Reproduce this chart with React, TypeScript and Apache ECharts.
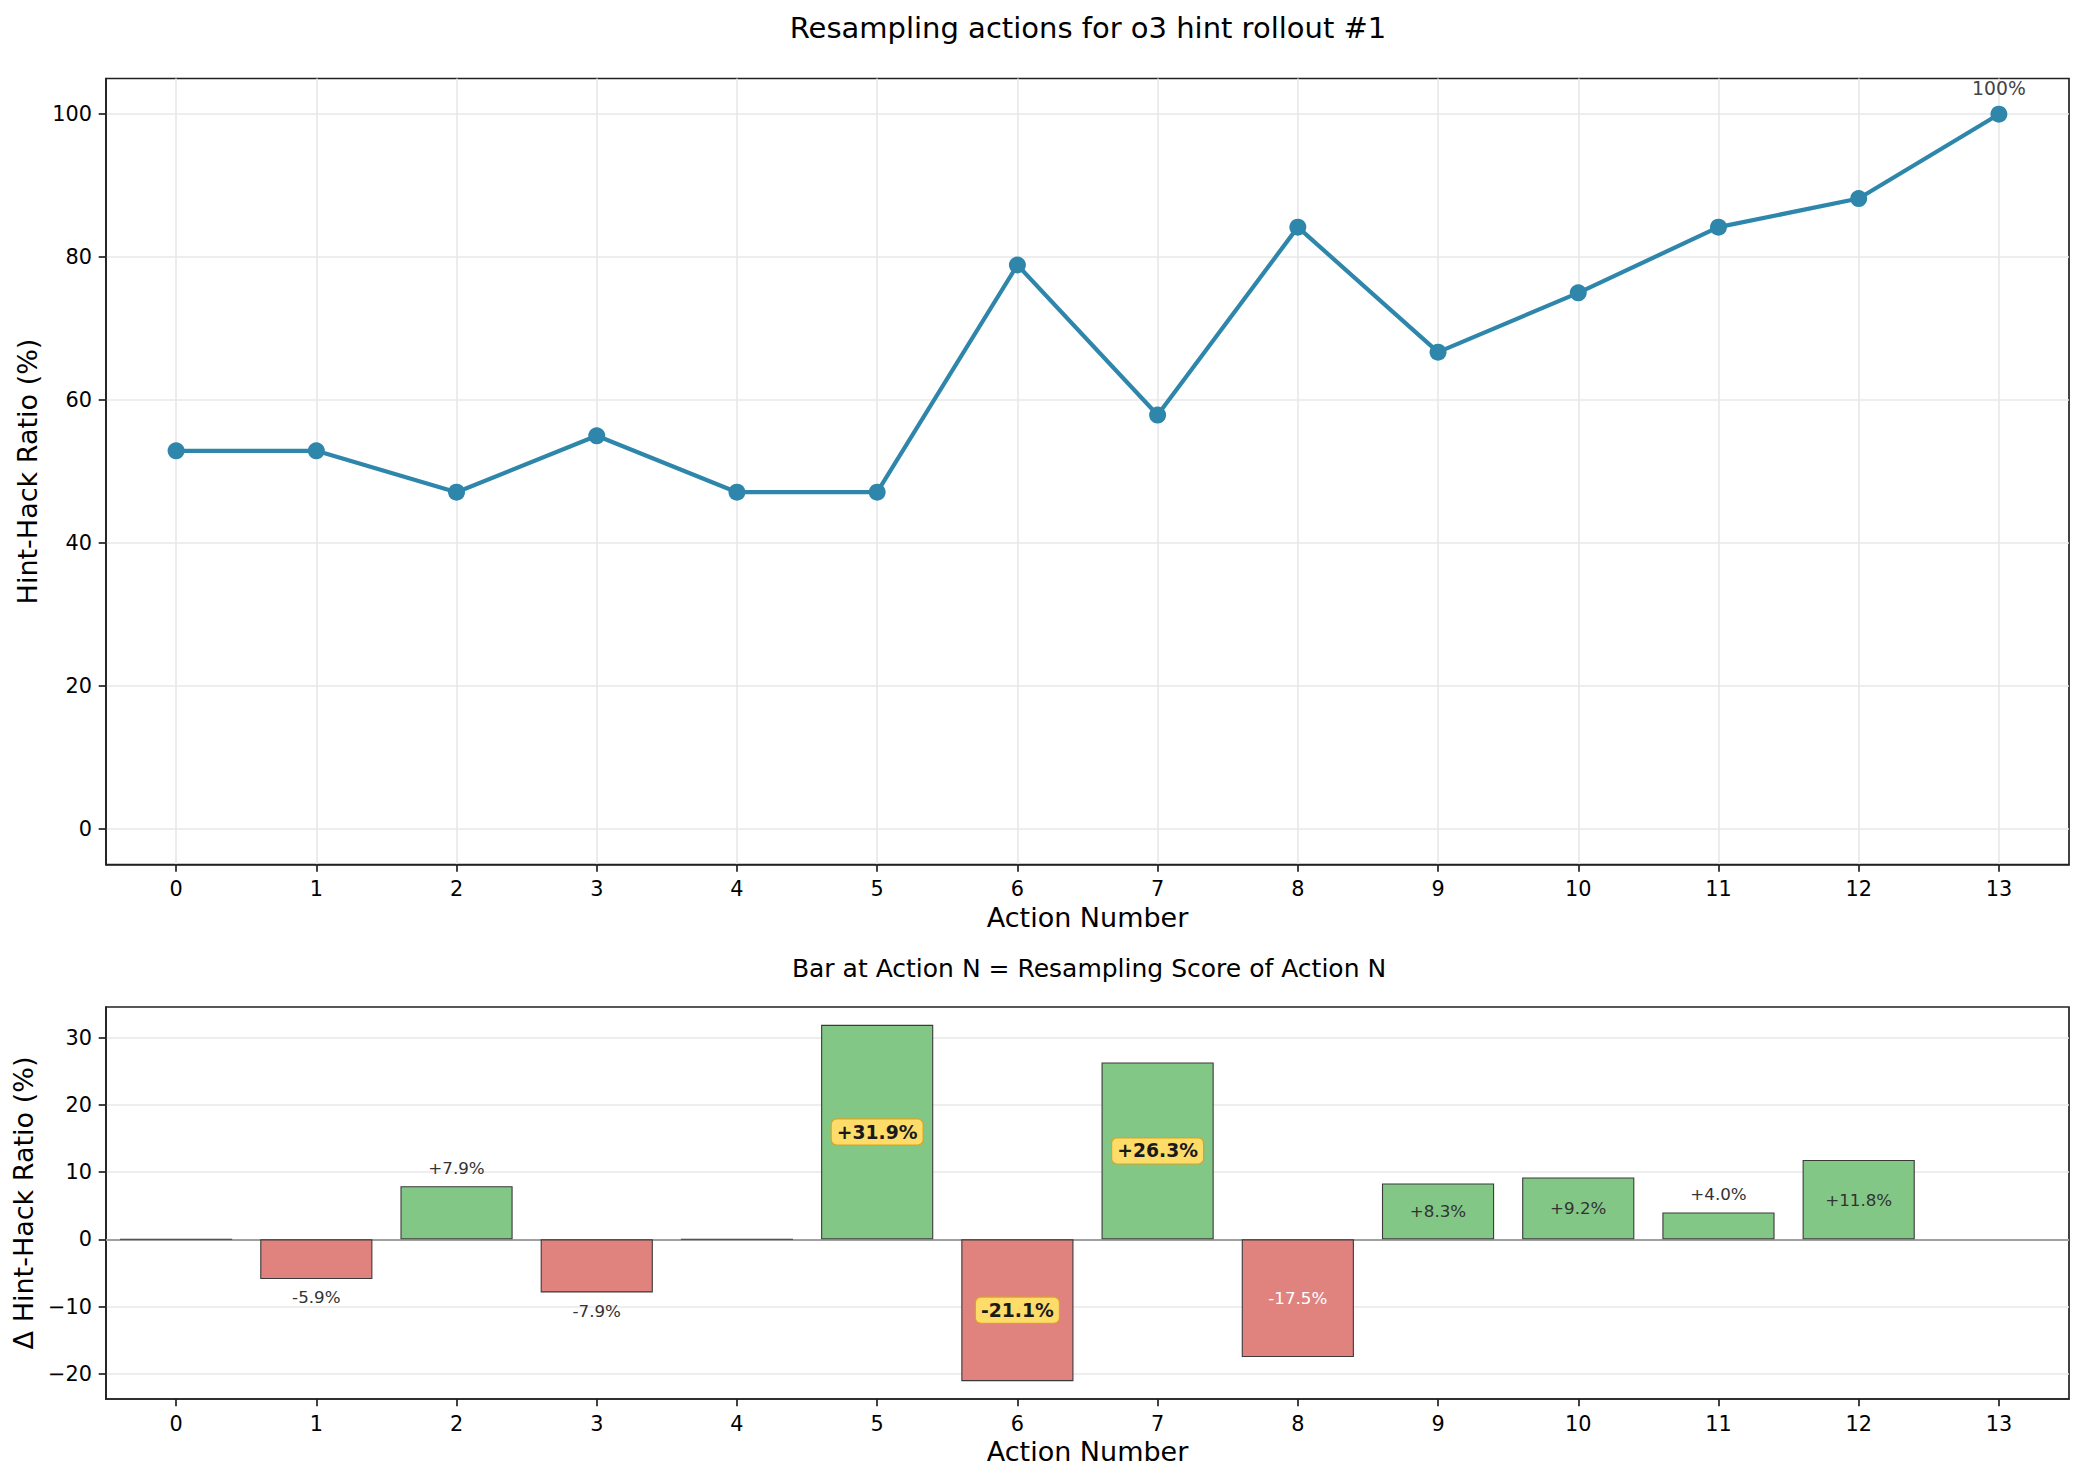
import React, { useEffect, useRef } from "react";
import * as echarts from "echarts";

const actions = ["0", "1", "2", "3", "4", "5", "6", "7", "8", "9", "10", "11", "12", "13"];
const hintHackRatio = [52.9, 52.9, 47.1, 55.0, 47.1, 47.1, 78.9, 57.9, 84.2, 66.7, 75.0, 84.2, 88.2, 100.0];
const deltaRatio: (number | null)[] = [0, -5.9, 7.9, -7.9, 0, 31.9, -21.1, 26.3, -17.5, 8.3, 9.2, 4.0, 11.8, null];
const topTicks = [0, 20, 40, 60, 80, 100];
const bottomTicks = [-20, -10, 0, 10, 20, 30];

const FONT = "DejaVu Sans";
const SPINE = "#222222";
const GRID = "#e8e8e8";

function fmtTick(v: number) {
  return v < 0 ? "\u2212" + Math.abs(v) : String(v);
}
function fmtDelta(d: number) {
  return (d > 0 ? "+" : "") + d.toFixed(1) + "%";
}

export default function App() {
  const ref = useRef<HTMLDivElement>(null);
  useEffect(() => {
    if (!ref.current) return;
    const chart = echarts.init(ref.current, undefined, { renderer: "svg" });

    const absVals = deltaRatio.map((d, i) => ({ i, a: d == null ? -1 : Math.abs(d) }));
    const top3 = absVals
      .slice()
      .sort((p, q) => q.a - p.a)
      .slice(0, 3)
      .map((p) => p.i);

    const barData = deltaRatio.map((d, i) => {
      if (d == null) return { value: null };
      const color = d >= 0 ? "#82C785" : "#E0837F";
      const item: any = { value: d, itemStyle: { color } };
      const base = { fontFamily: FONT, fontSize: 16.7, color: "#333333", formatter: fmtDelta(d) };
      if (d === 0) {
        item.label = { show: false };
      } else if (top3.includes(i)) {
        item.label = {
          show: true,
          position: "inside",
          formatter: fmtDelta(d),
          fontFamily: FONT,
          fontSize: 18.75,
          fontWeight: "bold",
          color: "#1a1a1a",
          backgroundColor: "#FDDC6A",
          borderColor: "#D9A520",
          borderWidth: 1.2,
          borderRadius: 5,
          padding: [4, 5, 2, 5],
        };
      } else if (Math.abs(d) >= 15) {
        item.label = { ...base, show: true, position: "inside", color: "#ffffff" };
      } else if (Math.abs(d) > 8) {
        item.label = { ...base, show: true, position: "inside" };
      } else {
        item.label = { ...base, show: true, position: "outside", distance: 10 };
      }
      return item;
    });

    const lineData = hintHackRatio.map((v, i) => {
      if (i === hintHackRatio.length - 1) {
        return {
          value: v,
          label: {
            show: true,
            position: "top",
            distance: 8,
            formatter: v.toFixed(0) + "%",
            fontFamily: FONT,
            fontSize: 18.75,
            color: "#444444",
          },
        };
      }
      return v;
    });

    const xCommon = {
      type: "category",
      data: actions,
      boundaryGap: true,
      axisLine: { show: true, onZero: false, lineStyle: { color: SPINE, width: 1.7 } },
      axisTick: { show: true, alignWithLabel: true, length: 7.3, lineStyle: { color: SPINE, width: 1.7 } },
      axisLabel: { fontFamily: FONT, fontSize: 20.8, color: "#000", margin: 14 },
      nameLocation: "middle",
      nameTextStyle: { fontFamily: FONT, fontSize: 27, color: "#000" },
    };

    const yCommon = {
      type: "value",
      axisLine: { show: true, onZero: false, lineStyle: { color: SPINE, width: 1.7 } },
      axisTick: { show: true, length: 7.3, lineStyle: { color: SPINE, width: 1.7 } },
      nameLocation: "middle",
      nameTextStyle: { fontFamily: FONT, fontSize: 27, color: "#000" },
      splitLine: { show: true, lineStyle: { color: GRID, width: 1.6 } },
    };

    chart.setOption({
      animation: false,
      backgroundColor: "#ffffff",
      grid: [
        { left: 106, top: 78.5, width: 1963, height: 786, show: true, borderColor: SPINE, borderWidth: 1.7, backgroundColor: "transparent" },
        { left: 106, top: 1007, width: 1963, height: 392, show: true, borderColor: SPINE, borderWidth: 1.7, backgroundColor: "transparent" },
      ],
      xAxis: [
        {
          ...xCommon,
          gridIndex: 0,
          name: "Action Number",
          nameGap: 38,
          splitLine: { show: true, alignWithLabel: true, lineStyle: { color: GRID, width: 1.6 } },
        },
        {
          ...xCommon,
          gridIndex: 1,
          name: "Action Number",
          nameGap: 39,
          splitLine: { show: false },
        },
      ],
      yAxis: [
        {
          ...yCommon,
          gridIndex: 0,
          min: -5,
          max: 105,
          name: "Hint-Hack Ratio (%)",
          nameGap: 62,
          axisTick: { ...yCommon.axisTick, customValues: topTicks },
          axisLabel: {
            customValues: topTicks,
            fontFamily: FONT,
            fontSize: 20.8,
            color: "#000",
            margin: 14,
            formatter: (v: number) => (topTicks.includes(v) ? fmtTick(v) : ""),
          },
        },
        {
          ...yCommon,
          gridIndex: 1,
          min: -23.75,
          max: 34.55,
          name: "\u0394 Hint-Hack Ratio (%)",
          nameGap: 64,
          axisTick: { ...yCommon.axisTick, customValues: bottomTicks },
          axisLabel: {
            customValues: bottomTicks,
            fontFamily: FONT,
            fontSize: 20.8,
            color: "#000",
            margin: 14,
            formatter: (v: number) => (bottomTicks.includes(v) ? fmtTick(v) : ""),
          },
        },
      ],
      graphic: [
        {
          type: "text",
          x: 1088,
          y: 28,
          style: {
            text: "Resampling actions for o3 hint rollout #1",
            fontFamily: FONT,
            fontSize: 29,
            fill: "#000",
            align: "center",
            verticalAlign: "middle",
          },
        },
        {
          type: "text",
          x: 1089,
          y: 968,
          style: {
            text: "Bar at Action N = Resampling Score of Action N",
            fontFamily: FONT,
            fontSize: 25,
            fill: "#000",
            align: "center",
            verticalAlign: "middle",
          },
        },
      ],
      series: [
        {
          type: "line",
          xAxisIndex: 0,
          yAxisIndex: 0,
          data: lineData,
          symbol: "circle",
          symbolSize: 17,
          lineStyle: { color: "#2E86AB", width: 4.2 },
          itemStyle: { color: "#2E86AB" },
          z: 3,
        },
        {
          type: "bar",
          xAxisIndex: 1,
          yAxisIndex: 1,
          data: barData,
          barWidth: "80%",
          itemStyle: { borderColor: "#3a3a3a", borderWidth: 1.1 },
          z: 3,
          markLine: {
            silent: true,
            symbol: ["none", "none"],
            label: { show: false },
            lineStyle: { color: "#a0a0a0", width: 2, type: "solid" },
            z: 1,
            data: [{ yAxis: 0 }],
          },
        },
      ],
    });
    return () => chart.dispose();
  }, []);
  return <div ref={ref} style={{ position: "fixed", left: 0, top: 0, width: 2085, height: 1484 }} />;
}
